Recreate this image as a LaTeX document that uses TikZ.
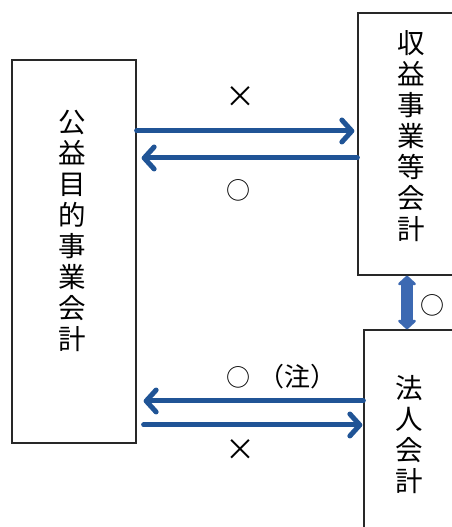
\documentclass[tikz,border=0pt]{standalone}
\usepackage{fontspec}
\setmainfont{Noto Sans CJK JP}
\usetikzlibrary{arrows.meta,calc}
\definecolor{arrblue}{RGB}{32,84,150}
\definecolor{vblue}{RGB}{60,105,178}
\definecolor{boxline}{RGB}{40,40,40}
\begin{document}
\begin{tikzpicture}[x=1pt,y=1pt,
  box/.style={draw=boxline,line width=1.3pt,fill=white,inner sep=0pt},
  vtext/.style={align=center,inner sep=0pt,font=\fontsize{27.5}{31}\selectfont},
  symb/.style={inner sep=0pt,font=\fontsize{24}{24}\selectfont},
  cross/.style={inner sep=0pt,font=\fontsize{30}{30}\selectfont},
  flow/.style={draw=arrblue,line width=5pt,line cap=round,
    -{Straight Barb[length=10pt,width=22pt,round]}},
  vflow/.style={draw=vblue,line width=12pt,
    {Triangle[length=10pt,width=21pt,round]}-{Triangle[length=10pt,width=21pt,round]}}]
\useasboundingbox (0,0) rectangle (452,527);
\clip (0,0) rectangle (452,527);
\fill[white] (0,0) rectangle (452,527);
% boxes
\node[box,minimum width=124pt,minimum height=383pt] (L) at (74,275.5) {};
\node[box,minimum width=104pt,minimum height=262pt] (RT) at (410,383) {};
\node[box,minimum width=102pt,minimum height=215pt] (RB) at (415,89.5) {};
% box texts
\node[vtext] (Lt) at (72,296) {公\\益\\目\\的\\事\\業\\会\\計};
\node[vtext] (RTt) at (411,391) {収\\益\\事\\業\\等\\会\\計};
\node[vtext] (RBt) at (409,92) {法\\人\\会\\計};
% row coordinates
\coordinate (r1) at (0,396);
\coordinate (r2) at (0,369);
\coordinate (r3) at (0,126);
\coordinate (r4) at (0,102);
% arrows
\draw[flow,shorten >=3pt] (L.east |- r1) -- (RT.west |- r1);
\draw[flow,shorten >=5pt] (RT.west |- r2) -- (L.east |- r2);
\draw[flow,shorten >=7pt] (RB.west |- r3) -- (L.east |- r3);
\draw[flow,shorten <=7pt,shorten >=1pt] (L.east |- r4) -- (RB.west |- r4);
\coordinate (vx) at (407,0);
\draw[vflow] (RT.south -| vx) -- (RB.north -| vx);
% labels
\node[cross] (x1) at (240,430) {×};
\node[symb] (o1) at (238,337) {○};
\node[symb,anchor=west] (o2) at (226,150) {○\hspace{8pt}\fontsize{26}{26}\selectfont（注）};
\node[cross] (x2) at (240,77) {×};
\node[symb] (o3) at (432,222) {○};
\end{tikzpicture}
\end{document}
